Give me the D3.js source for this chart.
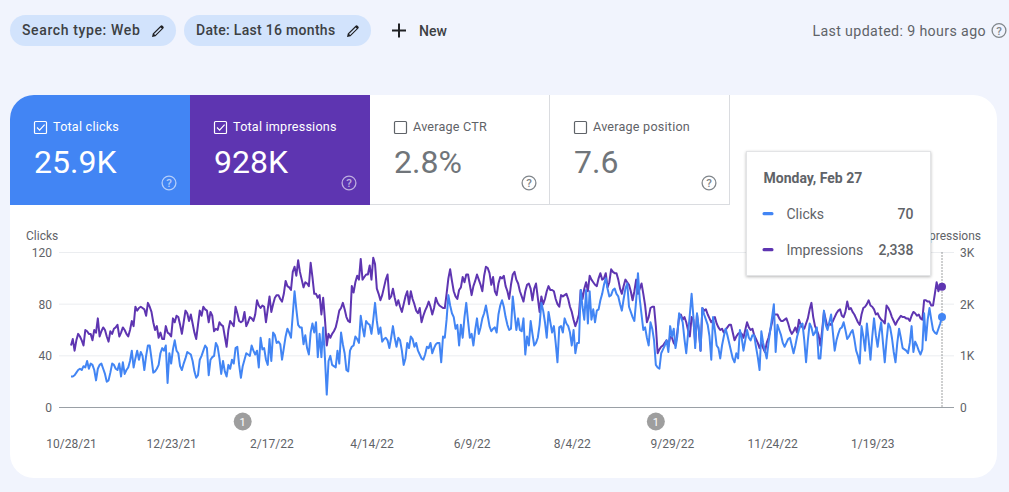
<!DOCTYPE html>
<html>
<head>
<meta charset="utf-8">
<script src="https://cdn.jsdelivr.net/npm/d3@7"></script>
<style>
  html, body { margin: 0; padding: 0; background: #f1f4fd; overflow: hidden; }
  text { font-family: Roboto, sans-serif; }
</style>
</head>
<body>
<svg id="page"></svg>
<script>
/*Daily values, first one is 10/28/21, last one is 2/27/23*/
const startDate = new Date(2021, 9, 28);

const clicks = [
  24,24,25,27,29,30,29,32,31,36,30,34,33,29,21,30,33,34,30,26,
  20,21,27,34,33,30,29,34,24,35,26,29,31,36,44,31,38,44,37,43,
  40,29,40,48,48,38,27,28,30,33,42,46,44,48,19,42,34,45,52,44,
  42,32,29,34,38,43,42,41,36,28,23,25,37,40,44,48,46,25,37,39,
  40,50,47,38,26,36,28,24,33,30,37,34,46,47,33,23,32,37,42,41,
  40,48,44,41,44,31,54,45,46,37,33,53,36,58,56,50,51,49,37,46,
  55,61,58,54,72,90,76,64,62,62,49,56,46,41,58,65,58,66,39,57,
  39,62,38,10,36,40,33,32,31,44,34,58,49,42,29,28,44,47,48,55,
  53,50,71,62,55,67,65,64,57,68,81,67,57,62,51,53,54,52,46,54,
  63,54,47,54,52,44,33,38,50,46,55,53,47,50,44,41,38,37,41,47,
  46,50,42,46,49,50,50,35,55,54,68,87,79,73,70,61,64,48,64,54,
  70,81,67,54,57,48,60,69,57,62,69,73,79,71,63,59,61,62,58,72,
  79,83,78,70,64,60,61,86,73,60,69,60,59,69,41,55,48,67,57,48,
  50,54,64,81,75,66,54,74,66,58,63,50,35,62,63,58,69,65,63,58,
  48,60,42,50,50,91,78,68,91,65,90,68,76,66,75,76,83,88,95,100,
  92,86,87,91,92,88,86,80,75,84,92,96,78,74,70,67,83,104,84,72,
  60,62,54,48,66,61,52,33,31,30,42,45,48,52,43,63,55,61,46,55,
  73,70,66,53,42,57,72,88,70,46,73,62,44,77,72,68,64,55,37,70,
  60,48,46,38,48,55,61,56,50,44,38,35,42,38,60,54,44,52,60,54,
  52,56,56,47,39,29,59,50,44,38,50,60,70,80,43,64,60,56,50,47,
  50,53,54,48,42,48,55,60,64,65,52,35,52,65,62,56,58,62,38,38,
  55,75,64,60,66,72,58,44,52,57,61,62,66,60,53,55,58,60,53,44,
  40,34,63,55,44,65,52,37,55,69,56,47,58,66,50,35,52,65,62,54,
  43,35,50,61,54,46,45,44,42,50,63,43,51,48,44,41,45,73,52,68,
  77,68,60,58,57,61,65,70
];

const impressions = [
  1200,1325,1100,1300,1425,1375,1300,1200,1500,1475,1425,1425,1300,1500,1450,1725,1375,1475,1550,1500,
  1375,1275,1475,1425,1525,1550,1600,1375,1450,1550,1500,1425,1375,1500,1675,1575,1950,1875,1925,1950,
  1925,1900,1775,2025,1950,1850,1650,1500,1575,1350,1450,1325,1325,1575,1450,1425,1375,1725,1650,1775,
  1750,1600,1425,1650,1875,1825,1675,1800,1625,1450,1325,1600,1875,1775,1950,1900,1875,1650,1850,1775,
  1475,1525,1500,1650,1600,1575,1375,1175,1500,1675,1625,1575,1950,1825,1675,1650,1675,1850,1575,1650,
  1750,1725,1675,1800,2075,1975,1925,1975,1950,1650,1900,2150,1850,2000,2125,2175,2175,2100,2050,2200,
  2450,2350,2325,2275,2625,2725,2550,2850,2625,2475,2325,2425,2400,2350,2800,2525,2200,2200,2125,2175,
  1800,2125,1700,1200,1425,1350,1425,1475,1550,1700,1875,1925,2025,1900,1750,1675,1650,2350,2225,2425,
  2550,2475,2875,2475,2525,2575,2575,2750,2475,2900,2775,2300,2200,2075,2175,2325,2475,2575,2100,2150,
  2300,2125,1975,2075,1950,1850,2000,2150,2250,2000,2250,2100,2000,1875,1825,1925,1650,1775,1875,1950,
  2050,1950,1800,1925,2125,2025,1975,1950,1925,1925,2200,2500,2675,2450,2250,2150,2100,2275,2325,2525,
  2425,2575,2575,2375,2175,2350,2450,2575,2475,2375,2250,2550,2725,2700,2600,2375,2525,2250,2175,2400,
  2525,2500,2550,2350,2250,2100,2375,2575,2625,2475,2400,2250,2150,2050,2250,2375,2400,2300,2075,2300,
  2400,2125,1850,2150,2000,2100,2250,2350,2275,2275,2250,2100,2000,1950,2175,2150,2175,2200,2100,1950,
  1850,1700,1575,1675,1800,2275,2100,2300,2425,2250,2550,2475,2425,2375,2350,2500,2600,2475,2500,2600,
  2325,2425,2675,2625,2600,2600,2475,2300,2200,2350,2475,2425,2375,2250,2075,2250,2475,2200,2300,2400,
  2200,1975,1650,1750,1925,1950,1950,1575,1050,1125,1175,1200,1250,1300,1175,1375,1350,1250,1200,1450,
  1750,1800,1700,1750,1650,1500,1375,1750,1700,1250,1800,1500,1100,1925,1875,1900,1800,1725,1650,1700,
  1750,1625,1550,1500,1525,1450,1500,1550,1600,1600,1450,1300,1375,1425,1450,1425,1350,1500,1650,1550,
  1500,1525,1400,1325,1250,1150,1250,1150,1075,1250,1350,1500,1650,1800,1800,1800,1725,1675,1675,1700,
  1725,1625,1500,1425,1475,1550,1450,1700,1600,1550,1525,1625,1725,1900,2025,1750,1575,1500,1400,1200,
  1500,1850,1700,1550,1625,1600,1675,1750,1825,1875,1900,1775,1750,1850,2050,1900,1925,1850,1800,1725,
  1650,1600,1800,1925,1950,2000,2075,1975,1950,1900,1800,1825,1750,1700,1675,1625,1975,1925,1850,1750,
  1675,1600,1675,1725,1775,1750,1750,1725,1725,1675,1775,1850,1825,1775,1800,1725,1700,2075,2075,2050,
  2050,1975,1975,2200,2425,2250,2350,2338
];

const xTickLabels = ["10/28/21","12/23/21","2/17/22","4/14/22","6/9/22","8/4/22","9/29/22","11/24/22","1/19/23"];
const clickTicks = [0, 40, 80, 120];
const impressionTicks = [0, 1000, 2000, 3000];
const annotationDates = ["2/1/22", "9/20/22"];
const tabLabels = ["Total clicks", "Total impressions", "Average CTR", "Average position"];
const tabValues = ["25.9K", "928K", "2.8%", "7.6"];
const filterLabels = ["Search type: Web", "Date: Last 16 months"];

const width = 1009;
const height = 492;
const blue = "#4285f4";
const purple = "#5e35b1";
const grey = "#5f6368";

const svg = d3.select("#page").attr("width", width).attr("height", height)
       .style("display", "block");

const defs = svg.append("defs");
const shadow = defs.append("filter").attr("id", "shadow")
       .attr("x", "-10%").attr("y", "-10%").attr("width", "120%").attr("height", "125%");
shadow.append("feDropShadow").attr("dx", 0).attr("dy", 1).attr("stdDeviation", 1.6)
       .attr("flood-color", "#000").attr("flood-opacity", 0.28);

function dateOf(i){
       return d3.timeDay.offset(startDate, i);
}

function helpIcon(parent, cx, cy, color){
       const g = parent.append("g");
       g.append("circle").attr("cx", cx).attr("cy", cy).attr("r", 6.9)
              .attr("fill", "none").attr("stroke", color).attr("stroke-width", 1.3);
       g.append("text").attr("x", cx).attr("y", cy + 4.1).attr("text-anchor", "middle")
              .attr("font-size", 11.5).attr("font-weight", 500).attr("fill", color).text("?");
}

function pencilIcon(parent, x, y){
       parent.append("path")
              .attr("transform", "translate(" + x + " " + y + ")")
              .attr("d", "M0 12 L0.8 8.6 L8.6 0.8 Q9.6 -0.1 10.8 0.9 L11.3 1.4 Q12.3 2.5 11.3 3.6 L3.5 11.2 Z M2 8.9 L3.2 10.1 L9.8 3.6 L8.6 2.4 Z")
              .attr("fill", "#202124").attr("fill-rule", "evenodd");
}

/*Top bar: filter chips, New button, last updated*/
const chipBoxes = [[10, 166, 0.62], [184, 187, 0.3]];
filterLabels.forEach((label, i)=>{
       const box = chipBoxes[i];
       svg.append("rect").attr("x", box[0]).attr("y", 15).attr("width", box[1]).attr("height", 31)
              .attr("rx", 15.5).attr("fill", "#d2e3fc");
       svg.append("text").attr("x", box[0] + 12).attr("y", 35).attr("font-size", 14)
              .attr("font-weight", 500).attr("letter-spacing", box[2]).attr("fill", "#3c4043").text(label);
       pencilIcon(svg, box[0] + box[1] - 24, 25);
});

svg.append("path").attr("d", "M399 23.5 V37.5 M392 30.5 H406")
       .attr("stroke", "#202124").attr("stroke-width", 2).attr("fill", "none");
svg.append("text").attr("x", 419).attr("y", 35.5).attr("font-size", 14)
       .attr("font-weight", 500).attr("fill", "#3c4043").text("New");

svg.append("text").attr("x", 986).attr("y", 35.5).attr("text-anchor", "end").attr("font-size", 14.2)
       .attr("letter-spacing", 0.38).attr("fill", grey).text("Last updated: 9 hours ago");
helpIcon(svg, 999, 30.5, "#80868b");

/*White card*/
svg.append("rect").attr("x", 10).attr("y", 95).attr("width", 987).attr("height", 383)
       .attr("rx", 24).attr("fill", "#fff");

/*Metric tabs*/
const tabWidth = 180;
const tabX = d3.scaleLinear().domain([0, 1]).range([10, 10 + tabWidth]);
const tabFills = [blue, purple, "#fff", "#fff"];

tabLabels.forEach((label, i)=>{
       const x0 = tabX(i);
       const selected = i < 2;
       const textColor = selected ? "#fff" : grey;
       if(i === 0){
              svg.append("path").attr("d", "M10 205 V119 A24 24 0 0 1 34 95 H190 V205 Z").attr("fill", tabFills[i]);
       } else {
              svg.append("rect").attr("x", x0).attr("y", 95).attr("width", tabWidth).attr("height", 110).attr("fill", tabFills[i]);
       }
       if(!selected){
              svg.append("path").attr("d", "M" + x0 + " 204.5 H" + (x0 + tabWidth) + " M" + (x0 + tabWidth - 0.5) + " 95 V205")
                     .attr("stroke", "#dadce0").attr("fill", "none");
       }
       svg.append("rect").attr("x", x0 + 24.5).attr("y", 121.5).attr("width", 12).attr("height", 12).attr("rx", 1)
              .attr("fill", "none").attr("stroke", selected ? "#fff" : "#5f6368").attr("stroke-width", 1.2);
       if(selected){
              svg.append("path").attr("d", "M" + (x0 + 27) + " 127.5 l2.6 2.6 l5 -5.4")
                     .attr("fill", "none").attr("stroke", "#fff").attr("stroke-width", 1.2);
       }
       svg.append("text").attr("x", x0 + 43).attr("y", 131).attr("font-size", 12.6)
              .attr("letter-spacing", 0.22).attr("fill", textColor).text(label);
       svg.append("text").attr("x", x0 + 24).attr("y", 173).attr("font-size", 32)
              .attr("fill", selected ? "#fff" : "#70757a").text(tabValues[i]);
       helpIcon(svg, x0 + 159, 183, selected ? "rgba(255,255,255,0.6)" : "#80868b");
});

/*Chart scales*/
const x = d3.scaleTime().domain([startDate, dateOf(clicks.length - 1)]).range([71, 942]);
const yClicks = d3.scaleLinear().domain([0, 120]).range([407.5, 252.5]);
const yImpressions = d3.scaleLinear().domain([0, 3000]).range([407.5, 252.5]);

/*Grid lines*/
svg.append("g").selectAll("line")
       .data(clickTicks.slice(1))
       .enter()
       .append("line")
       .attr("x1", 59).attr("x2", 954)
       .attr("y1", d=>yClicks(d)).attr("y2", d=>yClicks(d))
       .attr("stroke", "#ebedf0");

svg.append("line").attr("x1", 59).attr("x2", 954).attr("y1", 407.5).attr("y2", 407.5)
       .attr("stroke", "#9aa0a6");

/*Axes*/
const leftAxis = d3.axisLeft(yClicks).tickValues(clickTicks).tickSize(0).tickPadding(0);
const rightAxis = d3.axisRight(yImpressions).tickValues(impressionTicks).tickSize(0).tickPadding(0)
       .tickFormat(d=>d === 0 ? "0" : (d / 1000) + "K");

const gLeft = svg.append("g").attr("transform", "translate(52 0)").call(leftAxis);
const gRight = svg.append("g").attr("transform", "translate(960 0)").call(rightAxis);
[gLeft, gRight].forEach(g=>{
       g.select(".domain").remove();
       g.selectAll("text").attr("font-size", 12).attr("fill", grey)
              .style("font-family", "Roboto, sans-serif");
});

const tickDateList = xTickLabels.map(d=>d3.timeParse("%-m/%-d/%y")(d));
const bottomAxis = d3.axisBottom(x).tickValues(tickDateList).tickSize(0).tickPadding(0)
       .tickFormat(d=>d3.timeFormat("%-m/%-d/%y")(d));
const gBottom = svg.append("g").attr("transform", "translate(0 439)").call(bottomAxis);
gBottom.select(".domain").remove();
gBottom.selectAll("text").attr("font-size", 12).attr("fill", grey)
       .style("font-family", "Roboto, sans-serif");

svg.append("text").attr("x", 26).attr("y", 239.5).attr("font-size", 12).attr("fill", grey).text("Clicks");
svg.append("text").attr("x", 981).attr("y", 239.5).attr("text-anchor", "end").attr("font-size", 12)
       .attr("fill", grey).text("Impressions");

/*Annotation markers*/
const gNotes = svg.append("g").selectAll("g")
       .data(annotationDates.map(d=>d3.timeParse("%-m/%-d/%y")(d)))
       .enter()
       .append("g")
       .attr("transform", d=>"translate(" + x(d) + " 421.5)");
gNotes.append("circle").attr("r", 9).attr("fill", "#9e9e9e");
gNotes.append("text").attr("y", 4).attr("text-anchor", "middle").attr("font-size", 11)
       .attr("fill", "#fff").text("1");

/*Vertical hover line*/
const lastDate = dateOf(clicks.length - 1);
svg.append("line").attr("x1", x(lastDate)).attr("x2", x(lastDate)).attr("y1", 252.5).attr("y2", 407.5)
       .attr("stroke", "#3c4043").attr("stroke-width", 1).attr("stroke-dasharray", "1 2");

/*Series, impressions below clicks*/
const impressionLine = d3.line().x((d, i)=>x(dateOf(i))).y(d=>yImpressions(d));
const clickLine = d3.line().x((d, i)=>x(dateOf(i))).y(d=>yClicks(d));

svg.append("path").datum(impressions).attr("d", impressionLine)
       .attr("fill", "none").attr("stroke", purple).attr("stroke-width", 2).attr("stroke-linejoin", "round");
svg.append("path").datum(clicks).attr("d", clickLine)
       .attr("fill", "none").attr("stroke", blue).attr("stroke-width", 2).attr("stroke-linejoin", "round");

svg.append("circle").attr("cx", x(lastDate)).attr("cy", yImpressions(impressions[impressions.length - 1]))
       .attr("r", 4).attr("fill", purple);
svg.append("circle").attr("cx", x(lastDate)).attr("cy", yClicks(clicks[clicks.length - 1]))
       .attr("r", 4).attr("fill", blue);

/*Tooltip*/
const tip = svg.append("g").attr("transform", "translate(746.5 151.5)");
tip.append("rect").attr("width", 184).attr("height", 124).attr("fill", "#fff")
       .attr("stroke", "#e3e4e6").attr("filter", "url(#shadow)");
tip.append("text").attr("x", 17).attr("y", 31).attr("font-size", 14).attr("font-weight", 700)
       .attr("fill", grey).text("Monday, Feb 27");

const tipRows = [
       ["Clicks", d3.format(",")(clicks[clicks.length - 1]), blue, 62],
       ["Impressions", d3.format(",")(impressions[impressions.length - 1]), purple, 98]
];
tipRows.forEach(row=>{
       tip.append("rect").attr("x", 16).attr("y", row[3] - 1.5).attr("width", 11).attr("height", 3.2).attr("rx", 1.5).attr("fill", row[2]);
       tip.append("text").attr("x", 40).attr("y", row[3] + 5).attr("font-size", 14).attr("fill", grey).text(row[0]);
       tip.append("text").attr("x", 167).attr("y", row[3] + 5).attr("text-anchor", "end").attr("font-size", 14)
              .attr("font-weight", 500).attr("fill", grey).text(row[1]);
});
</script>
</body>
</html>
